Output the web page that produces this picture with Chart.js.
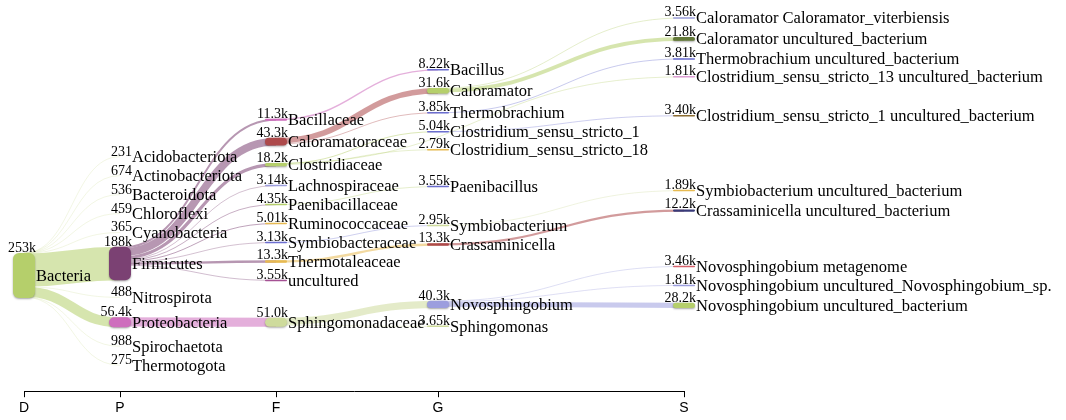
<!DOCTYPE html>
<html>
<head>
<meta charset="utf-8">
<script src="https://cdn.jsdelivr.net/npm/chart.js@4.4.1/dist/chart.umd.min.js"></script>
<style>
  html, body { margin: 0; padding: 0; background: #fff; }
  #wrap { width: 1066px; height: 420px; position: relative; }
</style>
</head>
<body>
<div id="wrap"><canvas id="chart"></canvas></div>
<script>
// taxonomic ranks on the x axis
const levels = ['D', 'P', 'F', 'G', 'S']
const levelX = [0, 96, 252, 414, 660]

// nodes
const nodeNames = [
  'Bacteria',
  'Acidobacteriota', 'Actinobacteriota', 'Bacteroidota', 'Chloroflexi', 'Cyanobacteria',
  'Firmicutes', 'Nitrospirota', 'Proteobacteria', 'Spirochaetota', 'Thermotogota',
  'Bacillaceae', 'Caloramatoraceae', 'Clostridiaceae', 'Lachnospiraceae', 'Paenibacillaceae',
  'Ruminococcaceae', 'Symbiobacteraceae', 'Thermotaleaceae', 'uncultured', 'Sphingomonadaceae',
  'Bacillus', 'Caloramator', 'Thermobrachium', 'Clostridium_sensu_stricto_1', 'Clostridium_sensu_stricto_18',
  'Paenibacillus', 'Symbiobacterium', 'Crassaminicella', 'Novosphingobium', 'Sphingomonas',
  'Caloramator Caloramator_viterbiensis', 'Caloramator uncultured_bacterium',
  'Thermobrachium uncultured_bacterium', 'Clostridium_sensu_stricto_13 uncultured_bacterium',
  'Clostridium_sensu_stricto_1 uncultured_bacterium', 'Symbiobacterium uncultured_bacterium',
  'Crassaminicella uncultured_bacterium', 'Novosphingobium metagenome',
  'Novosphingobium uncultured_Novosphingobium_sp.', 'Novosphingobium uncultured_bacterium'
]
const nodeLevels = [
  0,
  1, 1, 1, 1, 1, 1, 1, 1, 1, 1,
  2, 2, 2, 2, 2, 2, 2, 2, 2, 2,
  3, 3, 3, 3, 3, 3, 3, 3, 3, 3,
  4, 4, 4, 4, 4, 4, 4, 4, 4, 4
]
const nodeValues = [
  253000,
  231, 674, 536, 459, 365, 188000, 488, 56400, 988, 275,
  11300, 43300, 18200, 3140, 4350, 5010, 3130, 13300, 3550, 51000,
  8220, 31600, 3850, 5040, 2790, 3550, 2950, 13300, 40300, 3650,
  3560, 21800, 3810, 1810, 3400, 1890, 12200, 3460, 1810, 28200
]
// vertical slot of each node on the (hidden) layout axis
const nodeRows = [
  276,
  157, 176, 195, 214, 233, 264, 298, 323, 347, 366,
  120, 142, 165, 186, 205, 224, 243, 262, 281, 323,
  70, 91, 113, 132, 150, 187, 226, 245, 305, 327,
  18, 39, 59, 77, 116, 191, 211, 267, 286, 306
]
const nodeColors = [
  '#b5cf6b',
  '#9c9ede', '#e7ba52', '#ad494a', '#637939', '#6b6ecf', '#7b4173', '#8c6d31', '#ce6dbd', '#d6616b', '#393b79',
  '#ce6dbd', '#ad494a', '#b5cf6b', '#9c9ede', '#b5cf6b', '#e7ba52', '#6b6ecf', '#e7ba52', '#a55194', '#cedb9c',
  '#6b6ecf', '#b5cf6b', '#6b6ecf', '#6b6ecf', '#e7ba52', '#6b6ecf', '#cedb9c', '#ad494a', '#9c9ede', '#cedb9c',
  '#9c9ede', '#637939', '#6b6ecf', '#de9ed6', '#8c6d31', '#e7ba52', '#393b79', '#d6616b', '#9c9ede', '#b5cf6b'
]

// links
const linkSource = [
  'Bacteria', 'Bacteria', 'Bacteria', 'Bacteria', 'Bacteria', 'Bacteria', 'Bacteria', 'Bacteria', 'Bacteria', 'Bacteria',
  'Firmicutes', 'Firmicutes', 'Firmicutes', 'Firmicutes', 'Firmicutes', 'Firmicutes', 'Firmicutes', 'Firmicutes', 'Firmicutes',
  'Proteobacteria',
  'Bacillaceae', 'Caloramatoraceae', 'Caloramatoraceae', 'Clostridiaceae', 'Clostridiaceae', 'Paenibacillaceae',
  'Symbiobacteraceae', 'Thermotaleaceae', 'Sphingomonadaceae', 'Sphingomonadaceae',
  'Caloramator', 'Caloramator', 'Thermobrachium', 'Clostridiaceae', 'Clostridium_sensu_stricto_1',
  'Symbiobacterium', 'Crassaminicella', 'Novosphingobium', 'Novosphingobium', 'Novosphingobium'
]
const linkTarget = [
  'Acidobacteriota', 'Actinobacteriota', 'Bacteroidota', 'Chloroflexi', 'Cyanobacteria',
  'Firmicutes', 'Nitrospirota', 'Proteobacteria', 'Spirochaetota', 'Thermotogota',
  'Bacillaceae', 'Caloramatoraceae', 'Clostridiaceae', 'Lachnospiraceae', 'Paenibacillaceae',
  'Ruminococcaceae', 'Symbiobacteraceae', 'Thermotaleaceae', 'uncultured',
  'Sphingomonadaceae',
  'Bacillus', 'Caloramator', 'Thermobrachium', 'Clostridium_sensu_stricto_1', 'Clostridium_sensu_stricto_18',
  'Paenibacillus', 'Symbiobacterium', 'Crassaminicella', 'Novosphingobium', 'Sphingomonas',
  'Caloramator Caloramator_viterbiensis', 'Caloramator uncultured_bacterium',
  'Thermobrachium uncultured_bacterium', 'Clostridium_sensu_stricto_13 uncultured_bacterium',
  'Clostridium_sensu_stricto_1 uncultured_bacterium', 'Symbiobacterium uncultured_bacterium',
  'Crassaminicella uncultured_bacterium', 'Novosphingobium metagenome',
  'Novosphingobium uncultured_Novosphingobium_sp.', 'Novosphingobium uncultured_bacterium'
]
const linkValues = [
  231, 674, 536, 459, 365, 188000, 488, 56400, 988, 275,
  11300, 43300, 18200, 3140, 4350, 5010, 3130, 13300, 3550,
  51000,
  8220, 31600, 3850, 5040, 2790, 3550, 2950, 13300, 40300, 3650,
  3560, 21800, 3810, 1810, 3400, 1890, 12200, 3460, 1810, 28200
]

const valueUnit = 45 / 253000   // layout units per count
const nodeW = 22
const labelFont = '16.5px "Liberation Serif", "Times New Roman", serif'
const valueFont = '14px "Liberation Serif", "Times New Roman", serif'

function fmt(v) {
  if (v < 1000) return String(v)
  return (v / 1000).toPrecision(3) + 'k'
}

function rgba(hex, a) {
  const n = parseInt(hex.slice(1), 16)
  return `rgba(${(n >> 16) & 255}, ${(n >> 8) & 255}, ${n & 255}, ${a})`
}

function roundRect(ctx, x, y, w, h, r) {
  r = Math.min(r, w / 2, h / 2)
  ctx.beginPath()
  ctx.moveTo(x + r, y)
  ctx.arcTo(x + w, y, x + w, y + h, r)
  ctx.arcTo(x + w, y + h, x, y + h, r)
  ctx.arcTo(x, y + h, x, y, r)
  ctx.arcTo(x, y, x + w, y, r)
  ctx.closePath()
}

const sankeyPlugin = {
  id: 'sankey',
  afterDatasetsDraw(chart) {
    const { ctx } = chart
    const xs = chart.scales.x, ys = chart.scales.y
    const zero = ys.getPixelForValue(0)
    const cx = i => xs.getPixelForValue(levelX[nodeLevels[i]])
    const cy = i => ys.getPixelForValue(nodeRows[i])
    const hPx = v => Math.abs(ys.getPixelForValue(v * valueUnit) - zero)
    const nodeH = i => nodeValues[i] >= 1000 ? Math.max(hPx(nodeValues[i]), 1.5) : hPx(nodeValues[i])

    const links = linkValues.map((v, k) => ({
      s: nodeNames.indexOf(linkSource[k]),
      t: nodeNames.indexOf(linkTarget[k]),
      w: hPx(v)
    }))

    // stack links at source and target ends
    const outOff = {}, inOff = {}
    const bySourceOrder = [...links].sort((a, b) => nodeRows[a.t] - nodeRows[b.t])
    bySourceOrder.forEach(l => {
      const top = cy(l.s) - hPx(nodeValues[l.s]) / 2
      const o = outOff[l.s] || 0
      l.y1 = top + o + l.w / 2
      outOff[l.s] = o + l.w
    })
    const byTargetOrder = [...links].sort((a, b) => nodeRows[a.s] - nodeRows[b.s])
    byTargetOrder.forEach(l => {
      const top = cy(l.t) - hPx(nodeValues[l.t]) / 2
      const o = inOff[l.t] || 0
      l.y2 = top + o + l.w / 2
      inOff[l.t] = o + l.w
    })

    ctx.save()
    ctx.lineCap = 'butt'
    links.forEach(l => {
      const x1 = cx(l.s), x2 = cx(l.t)
      const xm = (x1 + x2) / 2
      ctx.beginPath()
      ctx.moveTo(x1, l.y1)
      ctx.bezierCurveTo(xm, l.y1, xm, l.y2, x2, l.y2)
      ctx.lineWidth = Math.max(l.w, 0.6)
      ctx.strokeStyle = rgba(nodeColors[l.s], l.w < 0.3 ? 0.3 : 0.55)
      ctx.stroke()
    })

    // nodes
    nodeNames.forEach((name, i) => {
      const h = nodeH(i)
      if (h < 0.5) return
      const x = cx(i) - nodeW / 2
      const y = cy(i) - h / 2
      ctx.save()
      if (h > 3) {
        ctx.shadowColor = 'rgba(0, 0, 0, 0.35)'
        ctx.shadowBlur = 2
        ctx.shadowOffsetY = 1
      }
      roundRect(ctx, x, y, nodeW, h, 6)
      ctx.fillStyle = nodeColors[i]
      ctx.fill()
      ctx.restore()
    })

    // labels
    ctx.fillStyle = '#000'
    nodeNames.forEach((name, i) => {
      const h = nodeH(i)
      const right = cx(i) + nodeW / 2
      const top = cy(i) - h / 2
      ctx.font = valueFont
      ctx.textAlign = 'right'
      ctx.textBaseline = 'alphabetic'
      ctx.fillText(fmt(nodeValues[i]), right + 1, top - 1)
      ctx.font = labelFont
      ctx.textAlign = 'left'
      ctx.textBaseline = 'middle'
      ctx.fillText(name, right + 1, cy(i) + 1)
    })
    ctx.restore()
  }
}

const points = nodeNames.map((n, i) => ({ x: levelX[nodeLevels[i]], y: nodeRows[i] }))

new Chart(document.getElementById('chart'), {
  type: 'scatter',
  data: { datasets: [{ data: points, pointRadius: 0, pointHoverRadius: 0 }] },
  options: {
    responsive: true,
    maintainAspectRatio: false,
    animation: false,
    events: [],
    layout: { padding: { left: 24, right: 382, top: 0, bottom: 0 } },
    scales: {
      x: {
        type: 'linear',
        min: 0,
        max: 660,
        afterBuildTicks: axis => { axis.ticks = levelX.map(v => ({ value: v })) },
        ticks: {
          autoSkip: false,
          maxRotation: 0,
          padding: 3,
          color: '#000',
          font: { family: '"Liberation Sans", Arial, sans-serif', size: 14 },
          callback: (v, i) => levels[i]
        },
        grid: { drawOnChartArea: false, drawTicks: true, tickLength: 6, color: '#000', lineWidth: 1 },
        border: { display: true, color: '#000', width: 1 }
      },
      y: { type: 'linear', reverse: true, min: 0, max: 392, display: false }
    },
    plugins: { legend: { display: false }, tooltip: { enabled: false } }
  },
  plugins: [sankeyPlugin]
})
</script>
</body>
</html>
